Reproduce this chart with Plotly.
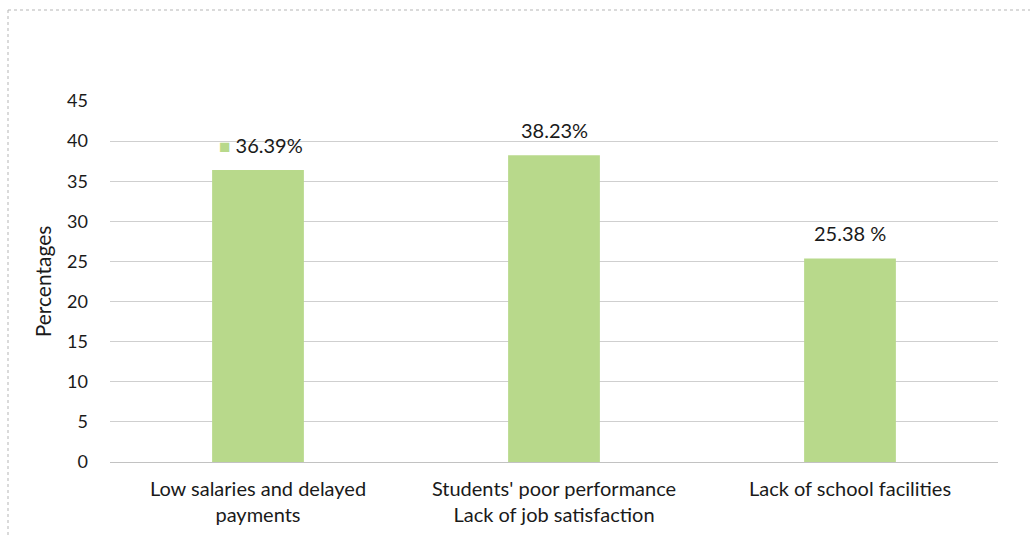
import plotly.graph_objects as go

# Categories (x-axis) and their percentage values
categories = [
    "Low salaries and delayed<br>payments",
    "Students' poor performance<br>Lack of job satisfaction",
    "Lack of school facilities",
]
values = [36.39, 38.23, 25.38]
value_labels = ["36.39%", "38.23%", "25.38 %"]

y_ticks = [0, 5, 10, 15, 20, 25, 30, 35, 40, 45]

BAR_COLOR = "#b8d98b"
TEXT_COLOR = "#1a1a1a"
FONT = "Lato"

fig = go.Figure(
    go.Bar(
        x=categories,
        y=values,
        marker=dict(color=BAR_COLOR, line=dict(width=0)),
        width=0.31,
        hoverinfo="x+y",
    )
)

# Value labels above each bar; the first one carries a small colour key
for i, (cat, val, lab) in enumerate(zip(categories, values, value_labels)):
    text = lab
    xshift = 0
    if i == 0:
        text = f"<span style='color:{BAR_COLOR};font-size:19px'>■</span> {lab}"
        xshift = 3
    fig.add_annotation(
        x=cat, y=val, text=text, showarrow=False,
        yanchor="bottom", yshift=11, xshift=xshift,
        font=dict(family=FONT, size=20, color=TEXT_COLOR),
    )

# Thin dotted frame around the chart area
frame = dict(color="#b5b5b5", width=1, dash="dot")
x_left = (8 - 110) / 888
y_top = (462 - 10) / 361
fig.add_shape(type="line", xref="paper", yref="paper",
              x0=x_left, x1=1.05, y0=y_top, y1=y_top, line=frame)
fig.add_shape(type="line", xref="paper", yref="paper",
              x0=x_left, x1=x_left, y0=y_top, y1=-0.25, line=frame)

fig.update_layout(
    width=1030,
    height=535,
    margin=dict(l=110, r=32, t=101, b=73),
    paper_bgcolor="white",
    plot_bgcolor="white",
    showlegend=False,
    font=dict(family=FONT, size=18, color=TEXT_COLOR),
    bargap=0.69,
    xaxis=dict(
        automargin=False,
        showgrid=False,
        showline=False,
        ticks="",
        tickfont=dict(family=FONT, size=20, color=TEXT_COLOR),
        ticklabelstandoff=13,
    ),
    yaxis=dict(
        automargin=False,
        range=[0, 45],
        tickvals=y_ticks,
        showgrid=True,
        gridcolor="#cfcfcf",
        gridwidth=1,
        zeroline=True,
        zerolinecolor="#c2c2c2",
        zerolinewidth=1,
        showline=False,
        ticks="",
        ticklabelstandoff=21,
        tickfont=dict(family=FONT, size=18, color=TEXT_COLOR),
        title=dict(text="Percentages", font=dict(family=FONT, size=21, color=TEXT_COLOR),
                   standoff=9),
    ),
)

fig.write_html("out.html")
